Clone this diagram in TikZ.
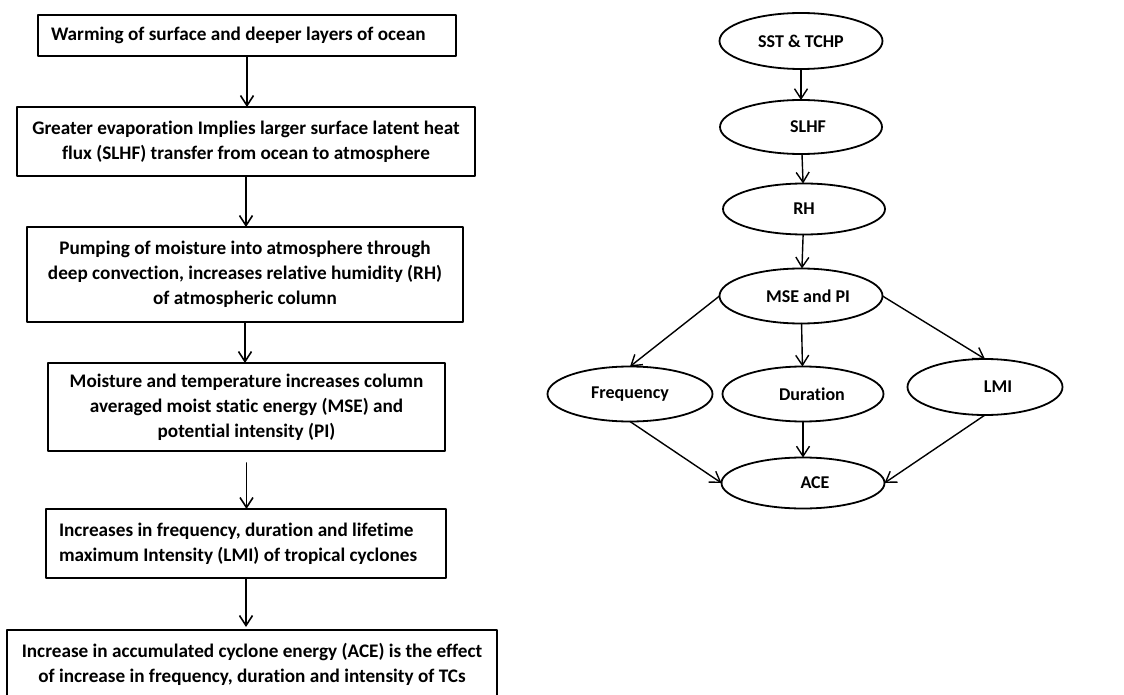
\documentclass[tikz,border=0pt]{standalone}
\usepackage{fontspec}
\setmainfont[Ligatures=NoCommon]{Carlito}
\usetikzlibrary{arrows.meta}
\usetikzlibrary{shapes.geometric}

\begin{document}
\begin{tikzpicture}[line cap=round,line join=round,>={Straight Barb[length=10pt,width=13pt]},x=1pt,y=-1pt,
		stagebox/.style={draw,line width=1.8pt,rectangle,inner sep=0pt,outer sep=0pt,align=center,font=\fontsize{19.2}{25}\selectfont\bfseries},
		leftbox/.style={stagebox,align=flush left,inner xsep=13pt,minimum height=#1},
		oval/.style={draw,line width=1.8pt,ellipse,inner sep=0pt,outer sep=0pt,minimum width=162pt,minimum height=54pt,font=\fontsize{18}{22}\selectfont\bfseries},
		flow/.style={->,line width=1.6pt},
		link/.style={->,line width=1.4pt}]
		\useasboundingbox (0,0) rectangle (1124,695);
		\clip (0,0) rectangle (1124,695);
		\node [leftbox=41pt,text width=392pt] (warm) at (247,35.5) {Warming of surface and deeper layers of ocean};
		\node [stagebox,minimum width=458pt,minimum height=69pt] (evap) at (246,141.5) {Greater evaporation Implies larger surface latent heat\\flux (SLHF) transfer from ocean to atmosphere};
		\node [stagebox,minimum width=436pt,minimum height=95pt] (pump) at (245,274.5) {Pumping of moisture into atmosphere through\\deep convection, increases relative humidity (RH)\\of atmospheric column};
		\node [stagebox,minimum width=397pt,minimum height=88pt] (mse) at (246.5,407) {Moisture and temperature increases column\\averaged moist static energy (MSE) and\\potential intensity (PI)};
		\node [leftbox=69pt,text width=374pt] (incr) at (246,543.5) {Increases in frequency, duration and lifetime\\maximum Intensity (LMI) of tropical cyclones};
		\node [stagebox,minimum width=490pt,minimum height=68pt] (ace) at (252,664) {Increase in accumulated cyclone energy (ACE) is the effect\\of increase in frequency, duration and intensity of TCs};
		\draw [flow] (warm.south) -- (warm.south |- evap.north);
		\draw [flow] (evap.south) -- (evap.south |- pump.north);
		\draw [flow] (pump.south) -- (pump.south |- mse.north);
		\draw [flow,shorten <=12pt] (mse.south) -- (mse.south |- incr.north);
		\draw [flow,shorten >=3pt] (incr.south) -- (incr.south |- ace.north);
		\node [oval,minimum width=163pt,minimum height=56pt] (sst) at (801,41) {SST \& TCHP};
		\node [oval] (slhf) at (801,127) {\hspace*{14pt}SLHF};
		\node [oval,minimum height=51pt] (rh) at (804,209) {RH};
		\node [oval,minimum width=163pt,minimum height=55pt] (msepi) at (801,296) {\hspace*{14pt}MSE and PI};
		\node [oval,minimum width=165pt,minimum height=55pt] (freq) at (630,394) {Frequency};
		\node [oval,minimum width=161pt,minimum height=55pt] (dur) at (803,394) {\hspace*{18pt}Duration};
		\node [oval,minimum width=155pt,minimum height=56pt] (lmi) at (985,387) {\hspace*{26pt}LMI};
		\node [oval,minimum width=163pt,minimum height=51pt] (acee) at (803,483) {\hspace*{24pt}ACE};
		\draw [link] (sst) -- (slhf);
		\draw [link] (slhf) -- (rh);
		\draw [link] (rh) -- (msepi);
		\draw [link] (msepi.west) -- (freq.north);
		\draw [link] (msepi) -- (dur);
		\draw [link] (msepi.east) -- (lmi.north);
		\draw [link] (freq.south) -- (acee.west);
		\draw [link] (dur) -- (acee);
		\draw [link] (lmi.south) -- (acee.east);
\end{tikzpicture}
\end{document}
